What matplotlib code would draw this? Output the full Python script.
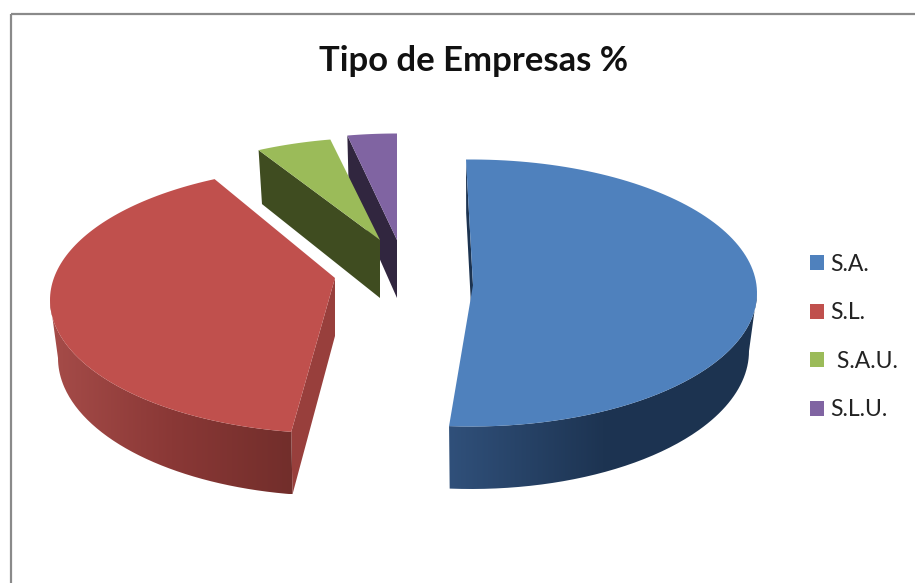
import numpy as np
import matplotlib
matplotlib.use("Agg")
import matplotlib.pyplot as plt
from matplotlib.colors import LinearSegmentedColormap
from matplotlib.patches import Patch, PathPatch, Polygon, Rectangle
from matplotlib.path import Path

# Chart data
title = "Tipo de Empresas %"
labels = ["S.A.", "S.L.", " S.A.U.", "S.L.U."]
shares = [51.5, 41.8, 4.2, 2.5]

# Slice styles
top_colors = ["#4f81bd", "#c0504d", "#9bbb59", "#8064a2"]
cut_colors = ["#1c3350", "#983f3c", "#3f4c20", "#31263f"]
wall_colors = [["#30507a", "#1d3452", "#1c3350"], ["#a64c49", "#8a3836", "#722e2b"], None, None]

# Pie geometry in pixels of the figure
centers = [(471, 293), (336, 300), (380, 271), (397, 267)]
apex_shift = [(2, -8), (-1, -22), (0, -31), (0, -27)]
angle_nudge = [(0, 0), (4.6, 0), (0, 0), (0, 1)]
wall_range = [(90, None), (None, 270), None, None]
draw_order = [3, 2, 0, 1]
RX, RY = 286, 133.5
RX_BOTTOM, RY_BOTTOM = 278, 138
DEPTH = 58
START_ANGLE = -1


# Points of the top or bottom ellipse, angle clockwise from 12 o'clock
def ellipse_point(center, angle, bottom=False):
    t = np.radians(angle)
    if bottom:
        return np.column_stack([center[0] + RX_BOTTOM * np.sin(t), center[1] + DEPTH - RY_BOTTOM * np.cos(t)])
    return np.column_stack([center[0] + RX * np.sin(t), center[1] - RY * np.cos(t)])


# Outer wall of a slice, filled with a horizontal gradient
def draw_wall(ax, center, a0, a1, colors):
    angles = np.linspace(a0, a1, 120)
    top = ellipse_point(center, angles)
    bottom = ellipse_point(center, angles, bottom=True)
    pts = np.vstack([top, bottom[::-1]])
    cmap = LinearSegmentedColormap.from_list("wall", colors)
    x0, x1 = pts[:, 0].min(), pts[:, 0].max()
    y0, y1 = pts[:, 1].min(), pts[:, 1].max()
    img = ax.imshow(np.linspace(0, 1, 256)[None, :], cmap=cmap, extent=(x0, x1, y1, y0), aspect="auto", zorder=2)
    img.set_clip_path(PathPatch(Path(pts), transform=ax.transData))


# One slice: cut face, outer wall, then the top surface
def draw_slice(ax, i, a0, a1):
    center = centers[i]
    apex = np.array([[center[0] + apex_shift[i][0], center[1] + apex_shift[i][1]]])
    apex_low = apex + [0, DEPTH]
    start_top = ellipse_point(center, a0)
    start_low = ellipse_point(center, a0, bottom=True)
    cut = np.vstack([start_top, start_low, apex_low, apex])
    ax.add_patch(Polygon(cut, closed=True, fc=cut_colors[i], ec="none", zorder=2))

    if wall_range[i] is not None:
        w0 = a0 if wall_range[i][0] is None else wall_range[i][0]
        w1 = a1 if wall_range[i][1] is None else wall_range[i][1]
        draw_wall(ax, center, w0, w1, wall_colors[i])

    arc = ellipse_point(center, np.linspace(a0, a1, 120))
    ax.add_patch(Polygon(np.vstack([apex, arc]), closed=True, fc=top_colors[i], ec="none", zorder=2))


def main():
    fig = plt.figure(figsize=(9.15, 5.83), dpi=100, facecolor="white")
    ax = fig.add_axes([0, 0, 1, 1])

    # Chart frame runs off the right and bottom of the picture
    ax.add_patch(Rectangle((11, 14), 1000, 700, fc="none", ec="#8a8a8a", lw=1.6))

    # Slice angles come from the cumulative shares
    edges = START_ANGLE + np.concatenate([[0], np.cumsum(shares)]) * 3.6
    for i in draw_order:
        for_start = edges[i] + angle_nudge[i][0]
        for_end = edges[i + 1] + angle_nudge[i][1]
        # Each slice is layered on top of the earlier ones
        draw_slice(ax, i, for_start, for_end)

    ax.set_xlim(0, 915)
    ax.set_ylim(583, 0)
    ax.axis("off")

    ax.text(474, 61, title, ha="center", va="center", fontsize=24.9, fontweight="bold", family="Lato", color="#111111")

    handles = [Patch(fc=c, ec="none") for c in top_colors]
    ax.legend(handles, labels, loc="center left", bbox_to_anchor=(809.5 / 915, 1 - 337 / 583),
              frameon=False, prop={"family": "Lato", "size": 16.5}, labelcolor="#222222",
              handlelength=0.63, handleheight=0.63, handletextpad=0.29, labelspacing=1.205,
              borderpad=0, borderaxespad=0)

    fig.savefig("out.png", dpi=100)


if __name__ == "__main__":
    main()
